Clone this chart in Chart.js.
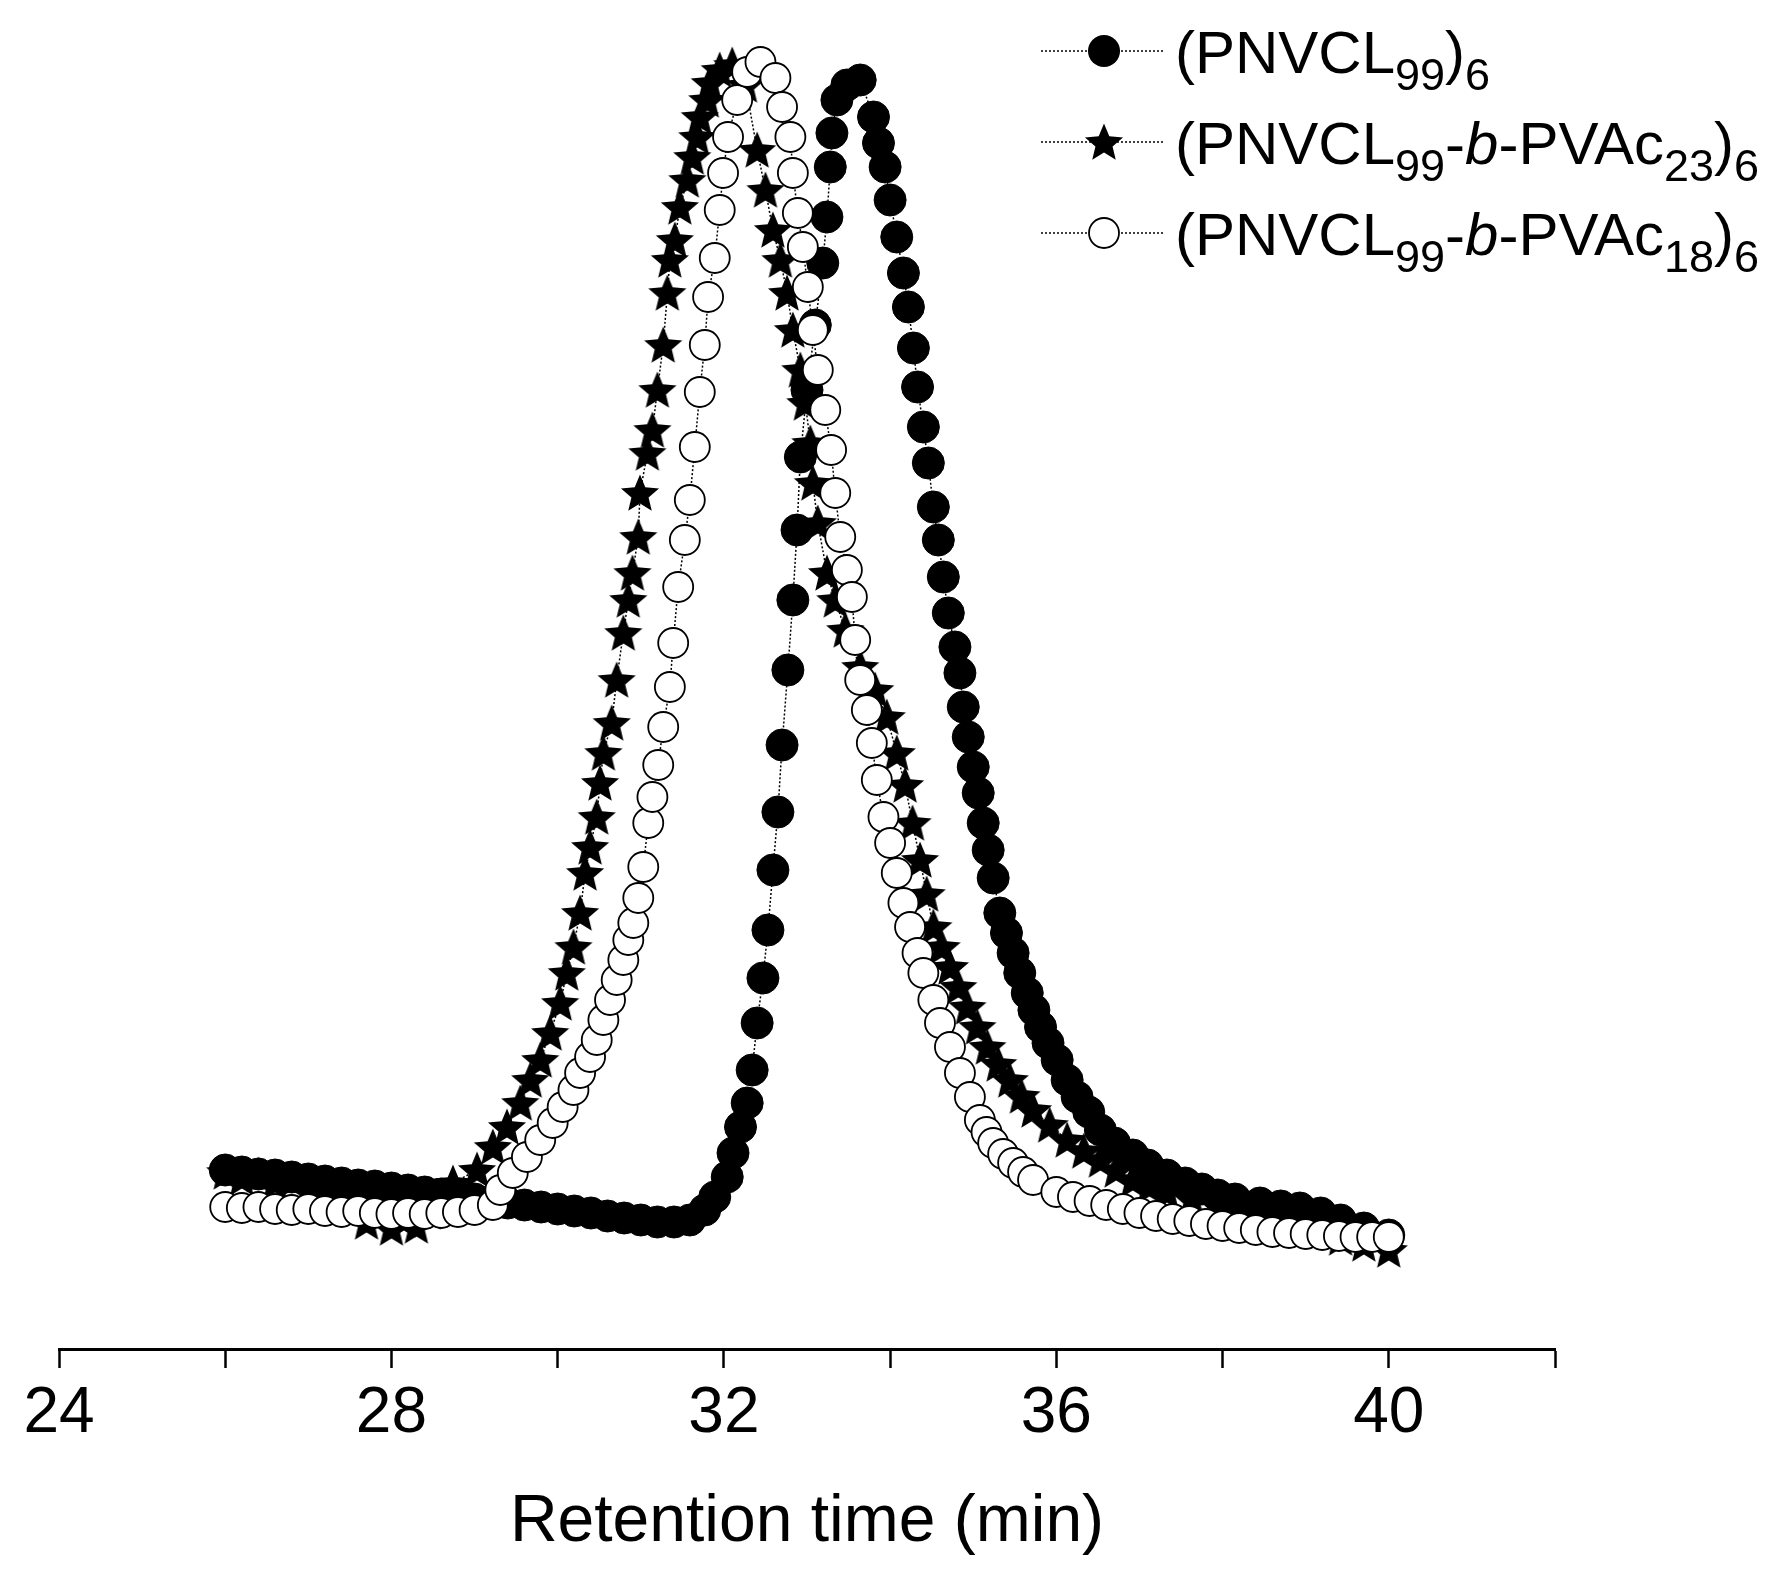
<!DOCTYPE html>
<html>
<head>
<meta charset="utf-8">
<script src="https://cdn.jsdelivr.net/npm/chart.js@4.4.0/dist/chart.umd.min.js"></script>
<style>
    body { margin: 0; background: #fff; }
    #wrap { width: 1788px; height: 1577px; position: relative; }
</style>
</head>
<body>
<div id="wrap"><canvas id="gpc"></canvas></div>
<script>
// retention time (min) / detector signal (a.u.)

// (PNVCL99)6 - filled circles
const filledTime = [
    26.0, 26.2, 26.4, 26.6, 26.8, 27.0, 27.2, 27.4, 27.6, 27.8, 28.0, 28.2, 28.4, 28.6, 28.8, 29.0,
    29.2, 29.4, 29.6, 29.8, 30.0, 30.2, 30.4, 30.6, 30.8, 31.0, 31.2, 31.4, 31.59, 31.77, 31.89,
    32.04, 32.11, 32.20, 32.28, 32.34, 32.40, 32.47, 32.53, 32.59, 32.65, 32.70, 32.77, 32.83,
    32.88, 32.92, 33.00, 33.10, 33.19, 33.24, 33.28, 33.30, 33.36, 33.48, 33.64, 33.80,
    33.86, 33.94, 34.00, 34.08, 34.16, 34.22, 34.28, 34.33, 34.40, 34.46, 34.52, 34.58, 34.64,
    34.70, 34.78, 34.84, 34.88, 34.94, 35.00, 35.06, 35.12, 35.18, 35.24, 35.32, 35.40, 35.48,
    35.56, 35.65, 35.73, 35.81, 35.90, 36.01, 36.13, 36.25, 36.39, 36.53, 36.70, 36.92, 37.10,
    37.33, 37.55, 37.75, 37.94, 38.15, 38.45, 38.70, 38.93, 39.18, 39.42, 39.70, 40.00
];
const filledSignal = [
    17.9, 17.7, 17.5, 17.4, 17.2, 17.0, 16.8, 16.6, 16.4, 16.3, 16.1, 15.9, 15.7, 15.5, 15.2, 15.0,
    14.8, 14.6, 14.4, 14.2, 14.0, 13.8, 13.6, 13.3, 13.1, 12.9, 12.7, 12.7, 12.9, 13.9, 15.2,
    17.2, 19.6, 22.2, 24.6, 27.9, 32.6, 37.1, 41.9, 47.9, 53.7, 60.4, 67.9, 74.9,
    81.9, 89.2, 95.9, 102.4, 108.6, 113.2, 118.2, 121.6, 124.9, 126.4, 126.9, 123.2,
    120.6, 118.2, 114.9, 111.2, 107.6, 104.2, 100.1, 96.2, 92.2, 88.6, 84.2, 80.9, 77.2,
    73.6, 70.2, 67.6, 64.2, 61.2, 58.2, 55.6, 52.6, 49.9, 47.1, 43.6, 41.6, 39.6,
    37.6, 35.6, 33.9, 32.2, 30.6, 28.9, 26.9, 25.2, 23.7, 21.9, 20.6, 19.4, 18.4,
    17.4, 16.6, 16.0, 15.4, 15.0, 14.6, 14.3, 14.1, 13.6, 12.9, 12.1, 11.4
];

// (PNVCL99-b-PVAc23)6 - stars
const starTime = [
    26.0, 26.2, 26.4, 26.6, 26.8, 27.0, 27.2, 27.4, 27.6, 27.7, 27.85, 28.0, 28.15, 28.3, 28.45,
    28.6, 28.74,
    29.03, 29.22, 29.39, 29.55, 29.67, 29.79, 29.91, 30.03, 30.11, 30.19, 30.27, 30.33, 30.39,
    30.47, 30.51, 30.55, 30.65, 30.71, 30.79, 30.85, 30.90, 30.97, 30.99, 31.08, 31.14, 31.20,
    31.27, 31.32, 31.35, 31.41, 31.47, 31.56, 31.62, 31.68, 31.71, 31.80, 31.83, 31.95, 32.10,
    32.26, 32.40, 32.50, 32.59, 32.68, 32.76, 32.83, 32.92, 32.98, 33.04, 33.07, 33.13, 33.24,
    33.34, 33.46, 33.64, 33.82, 33.96, 34.08, 34.18, 34.27, 34.36, 34.44, 34.52, 34.62, 34.72,
    34.82, 34.93, 35.05, 35.17, 35.30, 35.44, 35.58, 35.72, 35.92, 36.13, 36.33, 36.53, 36.72,
    36.92, 37.12, 37.33, 37.63, 37.94, 38.20, 38.45, 38.70, 38.93, 39.18, 39.42, 39.70, 40.00
];
const starSignal = [
    17.7, 17.1, 17.4, 16.7, 16.9, 15.9, 16.3, 15.3, 14.4, 12.7, 13.4, 12.1, 12.9, 12.3, 13.7,
    14.9, 16.6,
    17.9, 20.2, 22.2, 24.6, 26.9, 28.9, 31.6, 34.6, 37.6, 40.2, 43.6, 47.6, 50.2,
    53.2, 56.6, 59.6, 62.6, 66.9, 71.6, 74.9, 77.6, 81.2, 85.6, 89.6, 91.9, 95.9,
    100.4, 105.6, 108.9, 110.9, 114.2, 116.9, 119.2, 121.2, 123.2, 124.9, 126.6, 127.9, 128.4,
    126.4, 119.9, 115.9, 111.9, 108.9, 105.6, 101.9, 97.9, 94.6, 90.6, 86.6, 82.6, 77.6,
    74.9, 71.9, 68.2, 65.9, 63.2, 59.6, 56.4, 52.6, 48.9, 45.5, 42.2, 40.2, 38.2,
    36.2, 34.2, 32.2, 30.2, 28.5, 26.9, 25.3, 23.9, 22.4, 20.9, 19.8, 18.9, 17.9,
    16.9, 16.3, 15.7, 15.0, 14.4, 13.9, 13.4, 12.9, 12.4, 11.7, 11.1, 10.5, 9.9
];

// (PNVCL99-b-PVAc18)6 - open circles
const openTime = [
    26.0, 26.2, 26.4, 26.6, 26.8, 27.0, 27.2, 27.4, 27.6, 27.8, 28.0, 28.2, 28.4, 28.6, 28.8,
    29.0, 29.22,
    29.31, 29.46, 29.63, 29.79, 29.94, 30.06, 30.19, 30.27, 30.39, 30.47, 30.55, 30.63, 30.71,
    30.79, 30.85, 30.91, 30.97, 31.03, 31.09, 31.14, 31.21, 31.27, 31.35, 31.39, 31.45, 31.53,
    31.59, 31.65, 31.71, 31.77, 31.81, 31.89, 31.95, 31.99, 32.05, 32.16, 32.28, 32.44,
    32.62, 32.70, 32.80, 32.83, 32.89, 32.95, 33.01, 33.07, 33.13, 33.22, 33.29, 33.34, 33.40,
    33.48, 33.54, 33.58, 33.64, 33.72, 33.78, 33.84, 33.92, 34.00, 34.08, 34.16, 34.24, 34.33,
    34.40, 34.52, 34.60, 34.72, 34.84, 34.96, 35.08, 35.16, 35.24, 35.36, 35.48, 35.60, 35.72,
    36.00, 36.20, 36.40, 36.60, 36.80, 37.00, 37.20, 37.40, 37.60, 37.80, 38.00, 38.20, 38.40,
    38.60, 38.80, 39.00, 39.20, 39.40, 39.60, 39.80, 40.00
];
const openSignal = [
    14.2, 14.1, 14.2, 14.0, 13.9, 14.0, 13.8, 13.7, 13.8, 13.6, 13.5, 13.6, 13.5, 13.6, 13.7,
    13.9, 14.4,
    15.9, 17.6, 19.2, 20.9, 22.6, 24.2, 25.9, 27.6, 29.2, 30.9, 32.9, 34.9, 36.9,
    38.9, 40.9, 42.6, 45.1, 48.2, 52.6, 55.2, 58.4, 62.2, 66.2, 70.6, 76.2, 80.9,
    84.9, 90.2, 95.7, 100.4, 105.2, 109.1, 113.9, 117.6, 121.2, 124.9, 127.7, 128.7,
    127.1, 124.2, 121.2, 117.6, 113.6, 110.2, 106.2, 101.9, 97.9, 93.9, 89.9, 85.6, 81.2,
    77.9, 75.2, 70.9, 66.9, 63.9, 60.6, 56.9, 53.2, 50.6, 47.6, 44.6, 42.2, 39.6,
    37.6, 34.9, 32.6, 30.2, 27.6, 25.2, 22.9, 21.7, 20.6, 19.5, 18.6, 17.7, 16.9,
    15.7, 15.2, 14.8, 14.4, 14.0, 13.6, 13.3, 13.0, 12.8, 12.5, 12.3, 12.1, 11.9,
    11.7, 11.6, 11.5, 11.4, 11.3, 11.2, 11.2, 11.2
];

// axis: ticks every 2 min, labels every 4 min
const xMin = 24, xMax = 42, xStep = 2;
const xLabels = [24, 28, 32, 36, 40];

// legend text pieces: n = normal, s = subscript, i = italic
const legendRows = [
    [['(PNVCL', 'n'], ['99', 's'], [')', 'n'], ['6', 's']],
    [['(PNVCL', 'n'], ['99', 's'], ['-', 'n'], ['b', 'i'], ['-PVAc', 'n'], ['23', 's'], [')', 'n'], ['6', 's']],
    [['(PNVCL', 'n'], ['99', 's'], ['-', 'n'], ['b', 'i'], ['-PVAc', 'n'], ['18', 's'], [')', 'n'], ['6', 's']]
];

const FONT = '"Liberation Sans", Arial, Helvetica, sans-serif';

// filled five point star used as marker
function makeStar(size) {
    const c = document.createElement('canvas');
    c.width = size;
    c.height = size;
    const g = c.getContext('2d');
    const r = size / 2;
    const ri = r * 0.45;
    g.beginPath();
    for (let i = 0; i < 10; i++) {
        const a = -Math.PI / 2 + i * Math.PI / 5;
        const rr = i % 2 ? ri : r;
        g.lineTo(r + rr * Math.cos(a), r * 1.08 + rr * Math.sin(a));
    }
    g.closePath();
    g.fillStyle = '#000';
    g.fill();
    return c;
}
const starImg = makeStar(40);

function toPoints(t, s) {
    return t.map((x, i) => ({ x: x, y: s[i] }));
}

function line(label, t, s, extra) {
    return Object.assign({
        label: label,
        data: toPoints(t, s),
        showLine: true,
        borderColor: '#000',
        borderWidth: 1.5,
        borderDash: [2, 2],
        pointBorderColor: '#000'
    }, extra);
}

const datasets = [
    line('filled', filledTime, filledSignal, {
        order: 3, pointStyle: 'circle', pointRadius: 16, pointBackgroundColor: '#000', pointBorderWidth: 1
    }),
    line('star', starTime, starSignal, {
        order: 2, pointStyle: starImg, pointRadius: 18
    }),
    line('open', openTime, openSignal, {
        order: 1, pointStyle: 'circle', pointRadius: 15, pointBackgroundColor: '#fff', pointBorderWidth: 1.8
    })
];

// legend in the upper right, with subscripts
const legendY = [51, 142, 233];
const legendPlugin = {
    id: 'gpcLegend',
    afterDraw(chart) {
        const ctx = chart.ctx;
        ctx.save();
        legendRows.forEach((parts, i) => {
            const y = legendY[i];
            ctx.strokeStyle = '#000';
            ctx.lineWidth = 1.5;
            ctx.setLineDash([2, 2]);
            ctx.beginPath();
            ctx.moveTo(1041, y);
            ctx.lineTo(1165, y);
            ctx.stroke();
            ctx.setLineDash([]);

            if (i === 0) {
                ctx.beginPath();
                ctx.arc(1104, y, 16, 0, Math.PI * 2);
                ctx.fillStyle = '#000';
                ctx.fill();
            } else if (i === 1) {
                ctx.drawImage(starImg, 1104 - 20, y - 20);
            } else {
                ctx.beginPath();
                ctx.arc(1104, y, 15, 0, Math.PI * 2);
                ctx.fillStyle = '#fff';
                ctx.fill();
                ctx.lineWidth = 1.8;
                ctx.stroke();
            }

            let x = 1175;
            const base = y + 22;
            ctx.fillStyle = '#000';
            ctx.textBaseline = 'alphabetic';
            ctx.textAlign = 'left';
            parts.forEach(([txt, kind]) => {
                let yy = base;
                if (kind === 's') {
                    ctx.font = '45px ' + FONT;
                    yy = base + 17;
                } else if (kind === 'i') {
                    ctx.font = 'italic 60px ' + FONT;
                } else {
                    ctx.font = '60px ' + FONT;
                }
                ctx.fillText(txt, x, yy);
                x += ctx.measureText(txt).width;
            });
        });
        ctx.restore();
    }
};

new Chart(document.getElementById('gpc'), {
    type: 'scatter',
    data: { datasets: datasets },
    options: {
        responsive: true,
        maintainAspectRatio: false,
        devicePixelRatio: 1,
        animation: false,
        layout: {
            autoPadding: false,
            padding: { left: 59, right: 233, top: 0, bottom: 0 }
        },
        plugins: {
            legend: { display: false },
            tooltip: { enabled: false }
        },
        elements: { line: { tension: 0 } },
        scales: {
            x: {
                type: 'linear',
                position: 'bottom',
                min: xMin,
                max: xMax,
                afterFit: (scale) => { scale.height = 228; },
                ticks: {
                    stepSize: xStep,
                    autoSkip: false,
                    maxRotation: 0,
                    padding: 8,
                    color: '#000',
                    font: { family: FONT, size: 64 },
                    callback: (v) => xLabels.includes(v) ? String(v) : ''
                },
                grid: {
                    drawOnChartArea: false,
                    drawTicks: true,
                    tickLength: 19,
                    tickWidth: 2.5,
                    tickColor: '#000'
                },
                border: { display: true, color: '#000', width: 3 },
                title: {
                    display: true,
                    text: 'Retention time (min)',
                    color: '#000',
                    font: { family: FONT, size: 66 },
                    padding: { top: 0, bottom: 15 }
                }
            },
            y: {
                display: false,
                min: 0,
                max: 134.9
            }
        }
    },
    plugins: [legendPlugin]
});
</script>
</body>
</html>
